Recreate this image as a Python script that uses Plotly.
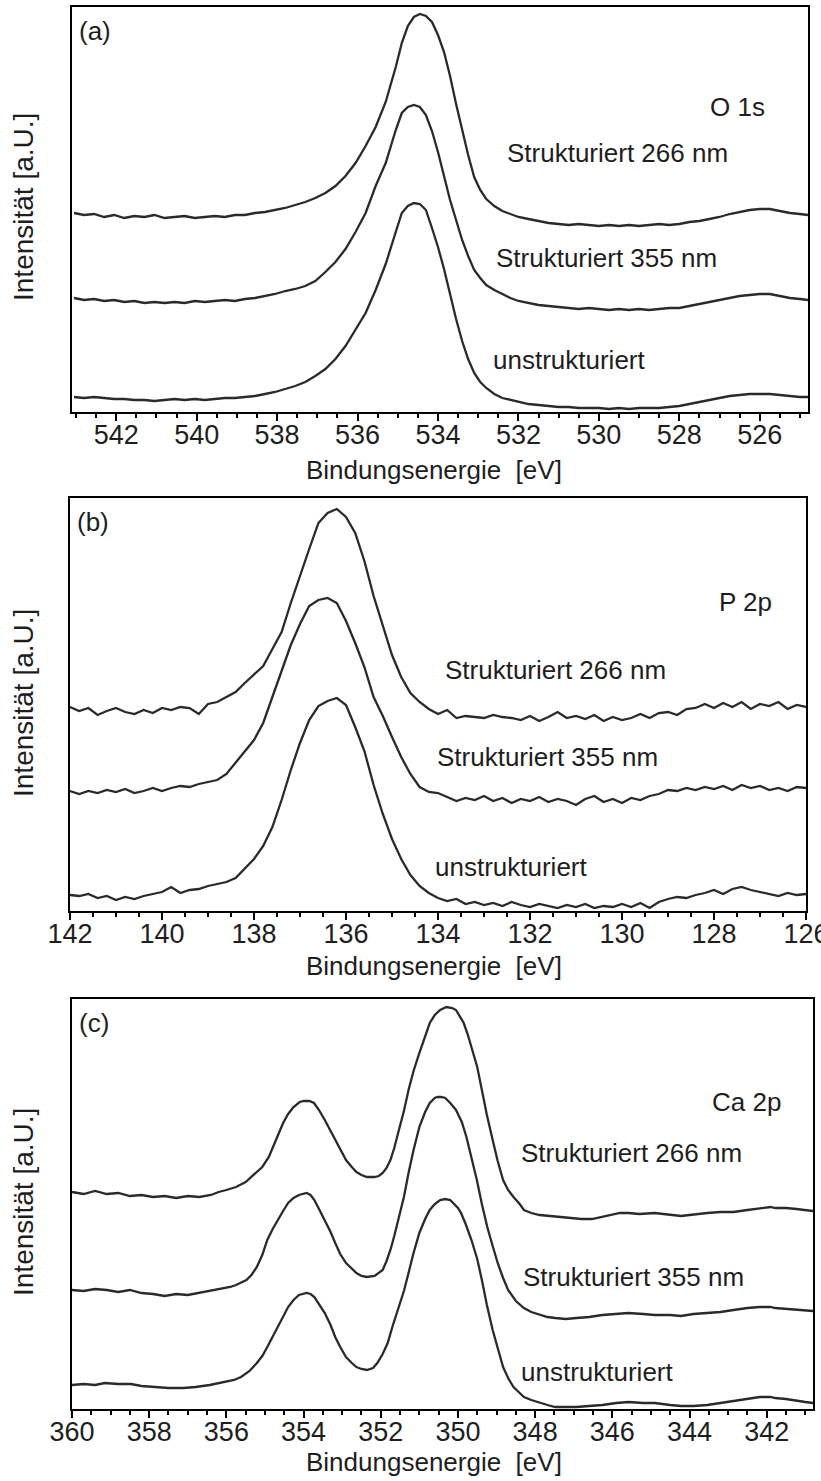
import plotly.graph_objects as go

W, H = 821, 1481
FONT = "Arial, 'Liberation Sans', sans-serif"
INK = "#1e1e1e"
LINE = "#2a2a2a"

SERIES = ["Strukturiert 266 nm", "Strukturiert 355 nm", "unstrukturiert"]

# ---------------- O 1s (binding energy in eV, intensity in a.U.) ----------------
O1S_ENERGY = [543.05, 542.8, 542.55, 542.3, 542.05, 541.8, 541.55, 541.3, 541.05, 540.8,
              540.55, 540.3, 540.05, 539.8, 539.55, 539.3, 539.05, 538.8, 538.55, 538.3,
              538.05, 537.8, 537.55, 537.3, 537.05, 536.8, 536.55, 536.3, 536.05, 535.8,
              535.55, 535.3, 535.05, 534.9, 534.75, 534.6, 534.45, 534.3, 534.15, 534.0,
              533.85, 533.7, 533.55, 533.4, 533.25, 533.1, 532.95, 532.8, 532.6, 532.4,
              532.2, 532.0, 531.75, 531.5, 531.25, 531.0, 530.75, 530.5, 530.25, 530.0,
              529.75, 529.5, 529.25, 529.0, 528.75, 528.5, 528.25, 528.0, 527.75, 527.5,
              527.25, 527.0, 526.75, 526.5, 526.25, 526.0, 525.75, 525.5, 525.25, 525.0,
              524.8]
O1S_266 = [199, 197, 198, 195, 197, 194, 196, 195, 197, 194,
           195, 196, 194, 195, 196, 195, 197, 197, 199, 200,
           202, 204, 207, 210, 214, 219, 226, 236, 249, 266,
           285, 310, 345, 369, 386, 395, 398, 396, 390, 377,
           360, 336, 308, 281, 257, 235, 222, 213, 206, 201,
           198, 195, 193, 191, 189, 188, 187, 188, 187, 186,
           187, 186, 187, 186, 187, 188, 187, 188, 190, 191,
           193, 195, 198, 200, 202, 203, 203, 201, 199, 198,
           197]
O1S_355 = [114, 112, 113, 111, 112, 110, 111, 109, 110, 109,
           110, 109, 111, 110, 111, 112, 111, 113, 114, 116,
           118, 121, 123, 126, 131, 140, 150, 163, 180, 199,
           226, 249, 282, 299, 305, 307, 305, 297, 281, 260,
           236, 212, 192, 172, 156, 142, 134, 127, 122, 118,
           114, 111, 109, 107, 106, 105, 104, 103, 104, 103,
           102, 103, 102, 103, 102, 103, 104, 104, 106, 108,
           110, 112, 114, 116, 117, 118, 118, 116, 114, 113,
           112]
O1S_UNSTR = [15, 14, 15, 14, 13, 13, 12, 12, 11, 12,
             13, 12, 13, 12, 13, 14, 14, 15, 16, 18,
             20, 23, 26, 30, 36, 43, 53, 66, 82, 99,
             122, 148, 180, 199, 206, 209, 208, 202, 184, 165,
             143, 117, 93, 71, 53, 39, 30, 24, 18, 14,
             12, 10, 8, 7, 6, 5, 5, 4, 4, 4,
             3, 4, 3, 4, 4, 4, 5, 6, 8, 10,
             12, 14, 16, 17, 18, 18, 18, 17, 16, 15,
             15]
O1S_TICKS = [542, 540, 538, 536, 534, 532, 530, 528, 526]

# ---------------- P 2p ----------------
P2P_ENERGY = [142.0, 141.8, 141.6, 141.4, 141.2, 141.0, 140.8, 140.6, 140.4, 140.2,
              140.0, 139.8, 139.6, 139.4, 139.2, 139.0, 138.8, 138.6, 138.4, 138.2,
              138.0, 137.8, 137.6, 137.4, 137.2, 137.0, 136.8, 136.6, 136.4, 136.2,
              136.0, 135.8, 135.6, 135.4, 135.2, 135.0, 134.8, 134.6, 134.4, 134.2,
              134.0, 133.8, 133.6, 133.4, 133.2, 133.0, 132.8, 132.6, 132.4, 132.2,
              132.0, 131.8, 131.6, 131.4, 131.2, 131.0, 130.8, 130.6, 130.4, 130.2,
              130.0, 129.8, 129.6, 129.4, 129.2, 129.0, 128.8, 128.6, 128.4, 128.2,
              128.0, 127.8, 127.6, 127.4, 127.2, 127.0, 126.8, 126.6, 126.4, 126.2,
              126.0]
P2P_266 = [204, 200, 203, 196, 200, 203, 199, 197, 201, 198,
           203, 201, 204, 203, 197, 207, 209, 214, 219, 228,
           237, 245, 262, 279, 308, 336, 362, 388, 398, 402,
           394, 378, 350, 315, 285, 256, 234, 218, 209, 202,
           197, 201, 193, 195, 194, 193, 196, 194, 193, 191,
           195, 190, 194, 199, 193, 195, 192, 196, 190, 194,
           191, 193, 197, 193, 198, 199, 196, 202, 203, 207,
           203, 208, 204, 209, 202, 207, 205, 209, 202, 206,
           204]
P2P_355 = [120, 117, 120, 118, 121, 119, 122, 118, 120, 123,
           120, 123, 125, 124, 127, 129, 131, 137, 148, 160,
           171, 188, 214, 240, 266, 287, 305, 311, 313, 308,
           290, 268, 244, 214, 195, 174, 154, 137, 124, 119,
           118, 114, 110, 113, 111, 115, 110, 113, 108, 112,
           110, 114, 109, 112, 110, 106, 112, 115, 109, 112,
           108, 113, 111, 115, 117, 121, 120, 123, 121, 124,
           122, 125, 121, 126, 123, 125, 121, 123, 120, 124,
           123]
P2P_UNSTR = [16, 15, 17, 13, 15, 11, 14, 12, 15, 17,
             19, 24, 18, 21, 22, 25, 27, 29, 33, 42,
             52, 65, 84, 111, 141, 168, 191, 205, 210, 213,
             206, 184, 160, 126, 97, 72, 52, 36, 25, 18,
             13, 10, 12, 7, 9, 6, 8, 5, 9, 6,
             4, 7, 5, 3, 6, 4, 7, 3, 5, 4,
             7, 4, 8, 3, 9, 12, 14, 13, 16, 18,
             21, 17, 22, 24, 21, 19, 17, 15, 18, 16,
             17]
P2P_TICKS = [142, 140, 138, 136, 134, 132, 130, 128, 126]

# ---------------- Ca 2p ----------------
CA2P_266_ENERGY = [360.0, 359.7, 359.4, 359.1, 358.8, 358.5, 358.2, 357.9, 357.6, 357.3,
                   357.0, 356.7, 356.4, 356.2, 356.0, 355.75, 355.5, 355.35, 355.2, 355.07,
                   354.9, 354.8, 354.65, 354.53, 354.4, 354.26, 354.1, 353.99, 353.85, 353.73,
                   353.6, 353.45, 353.3, 353.18, 353.05, 352.9, 352.75, 352.63, 352.5, 352.36,
                   352.16, 352.05, 351.95, 351.85, 351.75, 351.65, 351.55, 351.4, 351.28, 351.15,
                   351.0, 350.85, 350.73, 350.6, 350.46, 350.3, 350.15, 350.05, 349.95, 349.85,
                   349.75, 349.65, 349.5, 349.38, 349.25, 349.1, 348.97, 348.83, 348.7, 348.56,
                   348.4, 348.29, 348.1, 347.88, 347.6, 347.34, 347.0, 346.8, 346.53, 346.3,
                   346.0, 345.8, 345.58, 345.3, 344.9, 344.6, 344.22, 344.0, 343.8, 343.54,
                   343.2, 342.86, 342.5, 342.18, 341.9, 341.78, 341.5, 341.23, 341.0, 340.8]
CA2P_266 = [217, 215, 218, 215, 216, 213, 214, 212, 213, 211,
            213, 212, 214, 217, 219, 222, 227, 232, 237, 242,
            252, 262, 275, 286, 295, 302, 307, 308, 308, 306,
            299, 289, 278, 269, 259, 249, 242, 237, 234, 232,
            232, 233, 236, 241, 249, 261, 276, 298, 319, 338,
            356, 373, 386, 394, 399, 402, 401, 399, 393, 386,
            375, 362, 342, 319, 294, 269, 248, 229, 219, 212,
            205, 199, 196, 194, 193, 192, 191, 190, 190, 192,
            194, 196, 196, 195, 196, 195, 193, 194, 195, 196,
            197, 197, 199, 201, 202, 201, 201, 200, 199, 198]

CA2P_355_ENERGY = [360.0, 359.7, 359.4, 359.1, 358.8, 358.5, 358.2, 357.9, 357.6, 357.3,
                   357.0, 356.7, 356.4, 356.1, 355.9, 355.75, 355.6, 355.48, 355.35, 355.21,
                   355.07, 354.94, 354.8, 354.67, 354.53, 354.4, 354.26, 354.12, 353.92, 353.82,
                   353.72, 353.6, 353.45, 353.3, 353.18, 353.05, 352.9, 352.75, 352.63, 352.5,
                   352.36, 352.16, 352.05, 351.95, 351.85, 351.75, 351.65, 351.55, 351.4, 351.28,
                   351.15, 351.0, 350.85, 350.73, 350.6, 350.53, 350.43, 350.33, 350.2, 350.05,
                   349.9, 349.78, 349.65, 349.51, 349.38, 349.24, 349.1, 348.97, 348.83, 348.7,
                   348.5, 348.29, 348.1, 347.88, 347.68, 347.48, 347.2, 346.93, 346.6, 346.26,
                   345.9, 345.58, 345.2, 344.9, 344.5, 344.22, 343.9, 343.54, 343.2, 342.86,
                   342.5, 342.18, 341.9, 341.78, 341.5, 341.23, 341.0, 340.8]
CA2P_355 = [119, 118, 120, 119, 117, 119, 116, 115, 113, 115,
            114, 116, 118, 120, 122, 124, 127, 129, 134, 142,
            154, 169, 180, 189, 198, 206, 211, 214, 216, 214,
            209, 200, 189, 177, 166, 155, 146, 140, 136, 133,
            132, 133, 136, 139, 148, 159, 173, 189, 212, 236,
            259, 282, 297, 306, 311, 312, 312, 311, 306, 299,
            287, 272, 252, 229, 205, 182, 163, 146, 131, 119,
            108, 101, 97, 94, 92, 91, 90, 91, 92, 94,
            95, 96, 95, 94, 94, 93, 95, 96, 97, 99,
            101, 102, 102, 101, 100, 99, 98, 98]

CA2P_UNSTR_ENERGY = [360.0, 359.7, 359.4, 359.15, 358.8, 358.47, 358.2, 357.79, 357.5, 357.11,
                     356.8, 356.43, 356.2, 356.02, 355.8, 355.62, 355.4, 355.21, 355.07, 354.94,
                     354.8, 354.67, 354.53, 354.4, 354.26, 354.12, 353.92, 353.82, 353.72, 353.6,
                     353.45, 353.3, 353.18, 353.05, 352.9, 352.75, 352.63, 352.5, 352.36, 352.2,
                     352.09, 351.95, 351.82, 351.7, 351.55, 351.4, 351.28, 351.15, 351.0, 350.85,
                     350.73, 350.6, 350.46, 350.33, 350.2, 350.12, 350.0, 349.92, 349.8, 349.65,
                     349.5, 349.38, 349.25, 349.1, 348.97, 348.83, 348.7, 348.56, 348.4, 348.29,
                     348.1, 347.88, 347.68, 347.48, 347.2, 346.93, 346.6, 346.26, 345.9, 345.58,
                     345.2, 344.9, 344.5, 344.22, 343.9, 343.54, 343.2, 342.86, 342.5, 342.18,
                     341.9, 341.78, 341.5, 341.23, 341.0, 340.8]
CA2P_UNSTR = [24, 25, 24, 26, 25, 25, 23, 22, 21, 21,
              22, 24, 26, 27, 29, 32, 38, 46, 53, 62,
              72, 82, 92, 102, 109, 114, 116, 115, 112, 105,
              96, 84, 72, 62, 52, 46, 42, 40, 39, 41,
              46, 55, 66, 82, 99, 118, 136, 156, 176, 190,
              199, 205, 209, 210, 209, 206, 201, 196, 185, 169,
              150, 129, 104, 79, 60, 42, 31, 22, 16, 12,
              9, 6, 4, 2, 2, 2, 3, 4, 6, 7,
              6, 6, 4, 3, 3, 4, 6, 8, 10, 12,
              12, 11, 10, 8, 7, 6]
CA2P_TICKS = [360, 358, 356, 354, 352, 350, 348, 346, 344, 342]


def px_x(x):
    return x / W


def px_y(y):
    return 1 - y / H


# Panel frames (pixel box), axis ranges and text placement
panels = [
    dict(letter="(a)", core="O 1s",
         box=(72, 808, 7, 412), xrange=[543.1, 524.8], ymax=405, ticks=O1S_TICKS,
         curves=[(O1S_ENERGY, O1S_266), (O1S_ENERGY, O1S_355), (O1S_ENERGY, O1S_UNSTR)],
         core_pos=(737, 107), label_pos=[(505, 153), (494, 258), (491, 360)],
         ytitle_y=207, xtitle_y=470),
    dict(letter="(b)", core="P 2p",
         box=(70, 806, 498, 911), xrange=[142, 126], ymax=413, ticks=P2P_TICKS,
         curves=[(P2P_ENERGY, P2P_266), (P2P_ENERGY, P2P_355), (P2P_ENERGY, P2P_UNSTR)],
         core_pos=(745, 602), label_pos=[(443, 670), (435, 757), (433, 867)],
         ytitle_y=703, xtitle_y=966),
    dict(letter="(c)", core="Ca 2p",
         box=(72, 813, 999, 1409), xrange=[360, 340.8], ymax=410, ticks=CA2P_TICKS,
         curves=[(CA2P_266_ENERGY, CA2P_266), (CA2P_355_ENERGY, CA2P_355),
                 (CA2P_UNSTR_ENERGY, CA2P_UNSTR)],
         core_pos=(746, 1102), label_pos=[(519, 1153), (521, 1277), (519, 1372)],
         ytitle_y=1202, xtitle_y=1462),
]

fig = go.Figure()
annotations = []
layout = dict(
    width=W, height=H,
    margin=dict(l=0, r=0, t=0, b=0, autoexpand=False),
    paper_bgcolor="white", plot_bgcolor="white",
    showlegend=False,
    font=dict(family=FONT, color=INK, size=26),
)

for i, p in enumerate(panels, start=1):
    xa = "x" if i == 1 else f"x{i}"
    ya = "y" if i == 1 else f"y{i}"
    for (energy, inten), name in zip(p["curves"], SERIES):
        fig.add_trace(go.Scatter(
            x=energy, y=inten, mode="lines", name=name,
            line=dict(color=LINE, width=2.3),
            xaxis=xa, yaxis=ya, hoverinfo="skip",
        ))
    left, right, top, bottom = p["box"]
    layout[f"xaxis{'' if i == 1 else i}"] = dict(
        domain=[px_x(left), px_x(right)],
        anchor=ya, range=p["xrange"],
        tickmode="array", tickvals=p["ticks"],
        ticks="outside", ticklen=7, tickwidth=2, tickcolor="black",
        minor=dict(dtick=0.5, tick0=0, ticks="outside", ticklen=4,
                   tickwidth=2, tickcolor="black", showgrid=False),
        showline=True, linecolor="black", linewidth=2, mirror=True,
        showgrid=False, zeroline=False,
        tickfont=dict(family=FONT, size=27, color=INK),
        ticklabelstandoff=-9, ticklabeloverflow="allow",
        automargin=False, fixedrange=True,
    )
    layout[f"yaxis{'' if i == 1 else i}"] = dict(
        domain=[px_y(bottom), px_y(top)],
        anchor=xa, range=[0, p["ymax"]],
        showticklabels=False, ticks="",
        showline=True, linecolor="black", linewidth=2, mirror=True,
        showgrid=False, zeroline=False, automargin=False, fixedrange=True,
    )

    # panel letter
    annotations.append(dict(text=p["letter"], x=px_x(left + 5), y=px_y(top + 24),
                            xref="paper", yref="paper", xanchor="left", yanchor="middle",
                            showarrow=False, font=dict(size=26, color=INK)))
    # core level
    annotations.append(dict(text=p["core"], x=px_x(p["core_pos"][0]), y=px_y(p["core_pos"][1]),
                            xref="paper", yref="paper", xanchor="center", yanchor="middle",
                            showarrow=False, font=dict(size=26, color=INK)))
    # curve labels
    for name, (lx, ly) in zip(SERIES, p["label_pos"]):
        annotations.append(dict(text=name, x=px_x(lx), y=px_y(ly),
                                xref="paper", yref="paper", xanchor="left", yanchor="middle",
                                showarrow=False, font=dict(size=26, color=INK)))
    # axis titles
    annotations.append(dict(text="Intensität [a.U.]", x=px_x(23), y=px_y(p["ytitle_y"]),
                            xref="paper", yref="paper", xanchor="center", yanchor="middle",
                            textangle=-90, showarrow=False, font=dict(size=28, color=INK)))
    annotations.append(dict(text="Bindungsenergie\u00a0 [eV]", x=px_x(434), y=px_y(p["xtitle_y"]),
                            xref="paper", yref="paper", xanchor="center", yanchor="middle",
                            showarrow=False, font=dict(size=26, color=INK)))

layout["annotations"] = annotations
fig.update_layout(**layout)
fig.write_html("out.html")
